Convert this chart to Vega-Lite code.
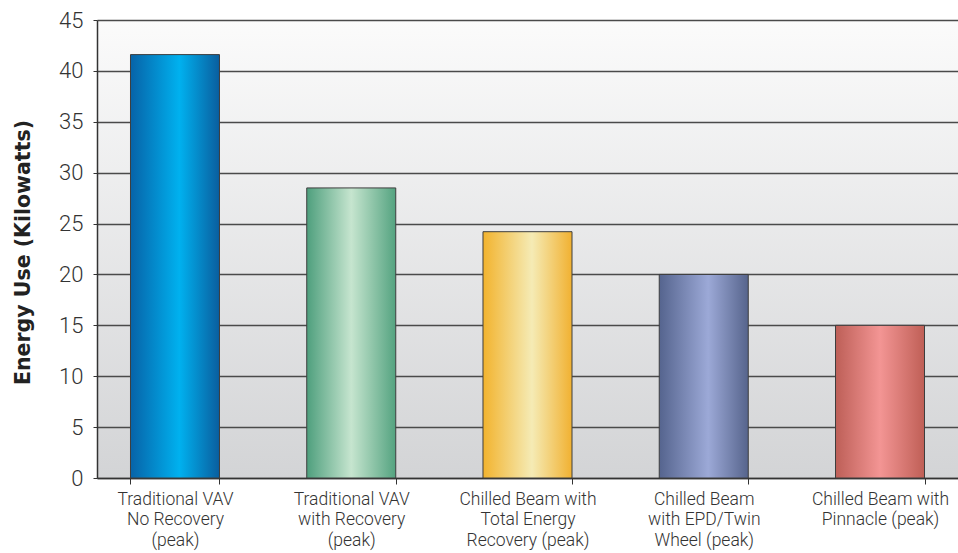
{
  "$schema": "https://vega.github.io/schema/vega-lite/v6.json",
  "width": 861,
  "height": 458,
  "autosize": "none",
  "padding": {"left": 97, "top": 20, "right": 0, "bottom": 75},
  "background": "#ffffff",
  "config": {
    "view": {
      "stroke": null,
      "fill": {
        "gradient": "linear", "x1": 0, "y1": 0, "x2": 0, "y2": 1,
        "stops": [
          {"offset": 0, "color": "#fbfbfb"},
          {"offset": 1, "color": "#d3d4d6"}
        ]
      }
    },
    "font": "Roboto"
  },
  "data": {
    "values": [
      {"system": "Traditional VAV|No Recovery|(peak)", "kw": 41.6},
      {"system": "Traditional VAV|with Recovery|(peak)", "kw": 28.5},
      {"system": "Chilled Beam with|Total Energy|Recovery (peak)", "kw": 24.2},
      {"system": "Chilled Beam|with EPD/Twin|Wheel (peak)", "kw": 20},
      {"system": "Chilled Beam with|Pinnacle (peak)", "kw": 15}
    ]
  },
  "mark": {"type": "bar", "stroke": "#3e3e3e", "strokeWidth": 1},
  "encoding": {
    "x": {
      "field": "system",
      "type": "nominal",
      "sort": null,
      "scale": {"paddingInner": 0.495, "paddingOuter": 0.19},
      "axis": {
        "title": null,
        "labelAngle": 0,
        "labelExpr": "split(datum.label, '|')",
        "labelFontSize": 17.5,
        "labelFontWeight": 300,
        "labelLineHeight": 20.5,
        "labelColor": "#333333",
        "labelPadding": 6,
        "labelBaseline": "top",
        "tickBand": "extent",
        "tickSize": 6,
        "tickColor": "#333333",
        "domainColor": "#333333",
        "domainWidth": 1.5
      }
    },
    "y": {
      "field": "kw",
      "type": "quantitative",
      "scale": {"domain": [0, 45], "nice": false},
      "axis": {
        "title": "Energy Use (Kilowatts)",
        "titleFont": "DejaVu Sans",
        "titleFontSize": 20.5,
        "titleFontWeight": "bold",
        "titleColor": "#222222",
        "titleX": -74,
        "titleY": 232,
        "titleAngle": -90,
        "titleBaseline": "middle",
        "titleAlign": "center",
        "values": [0, 5, 10, 15, 20, 25, 30, 35, 40, 45],
        "labelFontSize": 22,
        "labelFontWeight": 300,
        "labelColor": "#333333",
        "labelPadding": 10,
        "tickSize": 4,
        "tickColor": "#333333",
        "domainColor": "#333333",
        "domainWidth": 1.5,
        "grid": true,
        "gridColor": "#4a4a4a",
        "gridWidth": 1.5
      }
    },
    "color": {
      "condition": [
        {
          "test": "indexof(datum.system, 'No Recovery') >= 0",
          "value": {
            "gradient": "linear", "x1": 0, "y1": 0, "x2": 1, "y2": 0,
            "stops": [
              {"offset": 0, "color": "#0763a8"},
              {"offset": 0.55, "color": "#00b1ef"},
              {"offset": 1, "color": "#0a5e9e"}
            ]
          }
        },
        {
          "test": "indexof(datum.system, 'with Recovery') >= 0",
          "value": {
            "gradient": "linear", "x1": 0, "y1": 0, "x2": 1, "y2": 0,
            "stops": [
              {"offset": 0, "color": "#4e9f7d"},
              {"offset": 0.5, "color": "#c6e5cf"},
              {"offset": 1, "color": "#54a380"}
            ]
          }
        },
        {
          "test": "indexof(datum.system, 'Total Energy') >= 0",
          "value": {
            "gradient": "linear", "x1": 0, "y1": 0, "x2": 1, "y2": 0,
            "stops": [
              {"offset": 0, "color": "#f2b32e"},
              {"offset": 0.55, "color": "#f5ebb5"},
              {"offset": 1, "color": "#f1b131"}
            ]
          }
        },
        {
          "test": "indexof(datum.system, 'EPD') >= 0",
          "value": {
            "gradient": "linear", "x1": 0, "y1": 0, "x2": 1, "y2": 0,
            "stops": [
              {"offset": 0, "color": "#55648e"},
              {"offset": 0.55, "color": "#9ca9d7"},
              {"offset": 1, "color": "#56648c"}
            ]
          }
        }
      ],
      "value": {
        "gradient": "linear", "x1": 0, "y1": 0, "x2": 1, "y2": 0,
        "stops": [
          {"offset": 0, "color": "#bd5f57"},
          {"offset": 0.5, "color": "#f39594"},
          {"offset": 1, "color": "#bf5f56"}
        ]
      }
    }
  }
}
